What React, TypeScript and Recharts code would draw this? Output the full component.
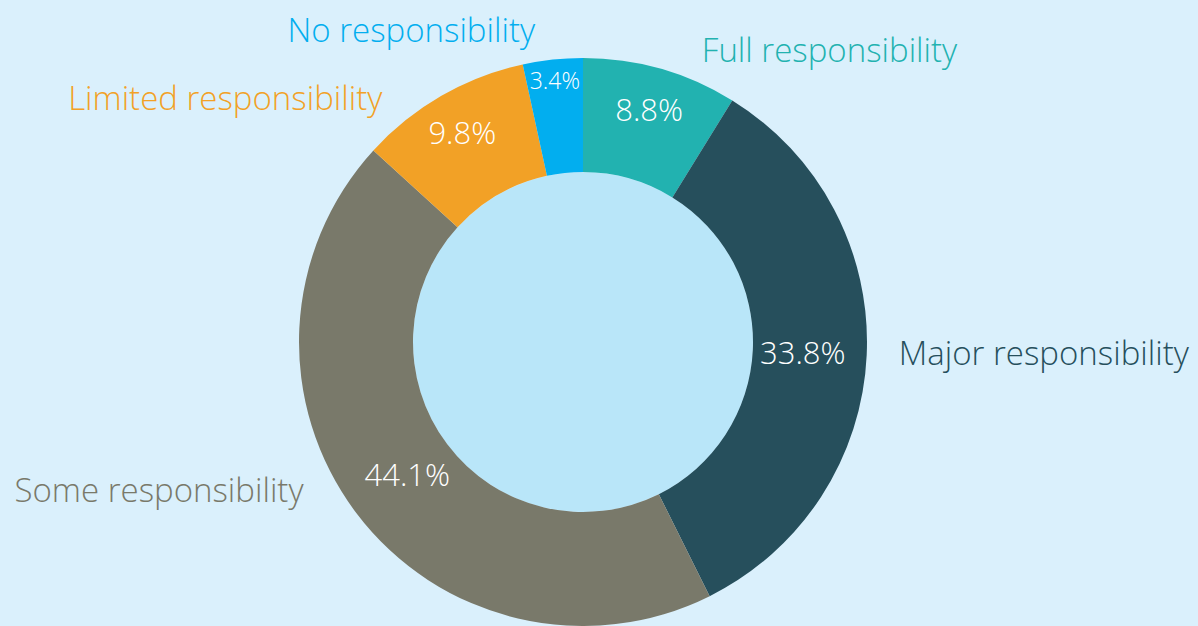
import { PieChart, Pie, Cell } from 'recharts'

const categories = [
  'Full responsibility',
  'Major responsibility',
  'Some responsibility',
  'Limited responsibility',
  'No responsibility',
]
const shares = [8.8, 33.8, 44.1, 9.8, 3.4]
const sliceColors = ['#22b2b0', '#264f5c', '#79796a', '#f2a126', '#02aeef']

const data = categories.map((name, i) => ({ name, value: shares[i] }))
const innerDisc = [{ name: 'center', value: 1 }]

const FONT = '"Open Sans", "Noto Sans", sans-serif'
const RAD = Math.PI / 180

function renderLabel(props: any) {
  const { cx, cy, midAngle, percent, index, value } = props
  const sin = Math.sin(midAngle * RAD)
  const cos = Math.cos(midAngle * RAD)

  // percentage inside the ring; narrow slices pushed toward the outer edge
  const pr = percent < 0.05 ? 264 : percent < 0.2 ? 242 : 220
  const px = cx + pr * cos
  const py = cy - pr * sin

  // category name outside, angle flattened toward the horizontal
  const a = Math.atan2(sin * 0.7, cos)
  const nr = 316
  const nx = cx + nr * Math.cos(a)
  const ny = cy - nr * Math.sin(a)

  return (
    <g>
      <text
        x={px}
        y={py}
        fill="#ffffff"
        textAnchor="middle"
        dominantBaseline="central"
        fontFamily={FONT}
        fontWeight={300}
        fontSize={percent < 0.05 ? 23 : 31}
      >
        {value.toFixed(1)}%
      </text>
      <text
        x={nx}
        y={ny}
        fill={sliceColors[index]}
        textAnchor={Math.cos(a) >= 0 ? 'start' : 'end'}
        dominantBaseline="central"
        fontFamily={FONT}
        fontWeight={300}
        fontSize={33}
      >
        {categories[index]}
      </text>
    </g>
  )
}

export default function App() {
  return (
    <div style={{ position: 'absolute', left: 0, top: 0, width: 1198, height: 626, background: '#daf0fc', overflow: 'hidden' }}>
      <PieChart width={1198} height={626} margin={{ top: 0, right: 0, bottom: 0, left: 0 }}>
        <Pie
          data={innerDisc}
          dataKey="value"
          cx={583}
          cy={342}
          innerRadius={0}
          outerRadius={170}
          fill="#b9e6f9"
          stroke="none"
          isAnimationActive={false}
        />
        <Pie
          data={data}
          dataKey="value"
          nameKey="name"
          cx={583}
          cy={342}
          innerRadius={170}
          outerRadius={284}
          startAngle={90}
          endAngle={-270}
          stroke="none"
          label={renderLabel}
          labelLine={false}
          isAnimationActive={false}
        >
          {data.map((d, i) => (
            <Cell key={d.name} fill={sliceColors[i]} />
          ))}
        </Pie>
      </PieChart>
    </div>
  )
}
